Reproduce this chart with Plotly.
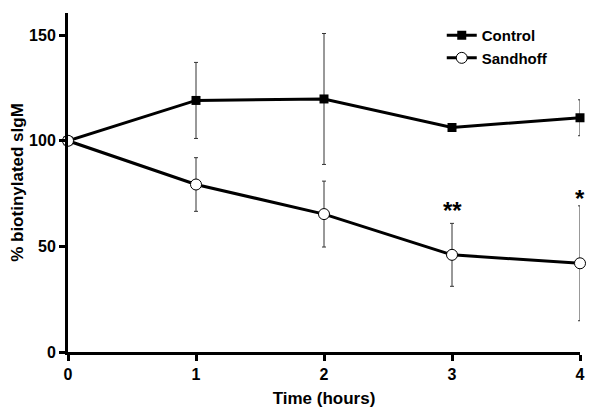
import plotly.graph_objects as go

time_hours = [0, 1, 2, 3, 4]
control_mean = [100, 119.1, 119.8, 106.3, 110.9]
control_err = [0, 18.0, 31.0, 1.5, 8.5]
sandhoff_mean = [100, 79.3, 65.3, 46.0, 42.0]
sandhoff_err = [0, 12.7, 15.6, 14.9, 27.2]
sig_labels = ["", "", "", "**", "*"]
sig_y = [None, None, None, 67.0, 72.5]
x_ticks = [0, 1, 2, 3, 4]
y_ticks = [0, 50, 100, 150]

FONT = "Liberation Sans"

fig = go.Figure()
fig.add_trace(go.Scatter(
    x=time_hours, y=control_mean, name="Control", mode="lines+markers",
    line=dict(color="black", width=3),
    marker=dict(symbol="square", size=9, color="black"),
    error_y=dict(type="data", array=control_err, visible=True,
                 color="#333333", thickness=1, width=2),
    cliponaxis=False,
))
fig.add_trace(go.Scatter(
    x=time_hours, y=sandhoff_mean, name="Sandhoff", mode="lines+markers",
    line=dict(color="black", width=3),
    marker=dict(symbol="circle", size=11, color="white",
                line=dict(color="black", width=1)),
    error_y=dict(type="data", array=sandhoff_err, visible=True,
                 color="#333333", thickness=1, width=2),
    cliponaxis=False,
))

for xv, lab, yv in zip(time_hours, sig_labels, sig_y):
    if lab:
        fig.add_annotation(x=xv, y=yv, text=lab, showarrow=False,
                           font=dict(family=FONT, size=24, color="black", weight="bold"))

axis_common = dict(
    showline=True, linecolor="black", linewidth=3,
    ticks="outside", ticklen=6, tickwidth=3, tickcolor="black",
    showgrid=False, zeroline=False, automargin=False,
    tickfont=dict(family=FONT, size=16, color="black", weight="bold"),
)

fig.update_xaxes(range=[0, 4], tickvals=x_ticks,
                 title=dict(text="Time (hours)", standoff=10,
                            font=dict(family=FONT, size=17, color="black", weight="bold")),
                 **axis_common)
fig.update_yaxes(range=[0, 160.5], tickvals=y_ticks,
                 title=dict(text="% biotinylated sIgM", standoff=12,
                            font=dict(family=FONT, size=17, color="black", weight="bold")),
                 **axis_common)

fig.update_layout(
    width=592, height=408,
    margin=dict(l=60, r=20, t=5, b=64),
    plot_bgcolor="white", paper_bgcolor="white",
    showlegend=True,
    legend=dict(x=0.73, y=0.982, xanchor="left", yanchor="top",
                bgcolor="rgba(0,0,0,0)", itemwidth=30,
                font=dict(family=FONT, size=15, color="black", weight="bold"),
                tracegroupgap=0),
)

fig.write_html("out.html")
